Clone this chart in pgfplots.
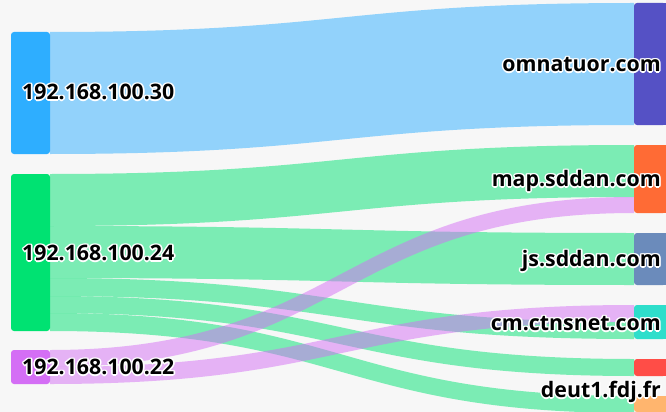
\documentclass[border=0pt]{standalone}
\usepackage{fontspec}
\setmainfont{Noto Sans}
\newfontfamily\lblfont{Open Sans}
\usepackage{pgfplots}
\pgfplotsset{compat=1.18}
\definecolor{bg}{HTML}{F7F7F7}
\definecolor{nA}{HTML}{2EAEFF}
\definecolor{nB}{HTML}{00E272}
\definecolor{nC}{HTML}{D46EF5}
\definecolor{tA}{HTML}{5551C5}
\definecolor{tB}{HTML}{FF6B35}
\definecolor{tC}{HTML}{6B8BBB}
\definecolor{tD}{HTML}{2EDECB}
\definecolor{tE}{HTML}{FF4D47}
\definecolor{tF}{HTML}{FFB56E}

% link: source top/bottom, target top/bottom, colour
\newcommand\flow[5]{%
  \fill[#5, fill opacity=0.5] (axis cs:50,#1) .. controls (axis cs:342,#1) and (axis cs:342,#3) .. (axis cs:634,#3)
    -- (axis cs:634,#4) .. controls (axis cs:342,#4) and (axis cs:342,#2) .. (axis cs:50,#2) -- cycle;}
\newcommand\srcnode[3]{\fill[#3, rounded corners=3bp] (axis cs:11,#1) rectangle (axis cs:50,#2);}
\newcommand\dstnode[3]{%
  \fill[#3, rounded corners=3bp] (axis cs:634,#1) rectangle (axis cs:666,#2);
  \fill[#3] (axis cs:650,#1) rectangle (axis cs:666,#2);}
\tikzset{lbl/.style={inner sep=0pt, text height=15.3bp, text depth=0pt,
  font=\lblfont\bfseries\fontsize{21.4}{25}\selectfont}}
% white halo: shifted white copies under the black text
\newcommand\lbl[4]{%
  \node[lbl, anchor=#3, text=white, xshift=1.6bp] at (axis cs:#1,#2) {#4};
  \node[lbl, anchor=#3, text=white, xshift=-1.6bp] at (axis cs:#1,#2) {#4};
  \node[lbl, anchor=#3, text=white, yshift=1.6bp] at (axis cs:#1,#2) {#4};
  \node[lbl, anchor=#3, text=white, yshift=-1.6bp] at (axis cs:#1,#2) {#4};
  \node[lbl, anchor=#3, text=white, xshift=1.15bp, yshift=1.15bp] at (axis cs:#1,#2) {#4};
  \node[lbl, anchor=#3, text=white, xshift=-1.15bp, yshift=1.15bp] at (axis cs:#1,#2) {#4};
  \node[lbl, anchor=#3, text=white, xshift=1.15bp, yshift=-1.15bp] at (axis cs:#1,#2) {#4};
  \node[lbl, anchor=#3, text=white, xshift=-1.15bp, yshift=-1.15bp] at (axis cs:#1,#2) {#4};
  \node[lbl, anchor=#3, text=black] at (axis cs:#1,#2) {#4};}

\begin{document}
\begin{tikzpicture}
\begin{axis}[
    width=666bp, height=412bp, scale only axis,
    xmin=0, xmax=666, ymin=0, ymax=412, y dir=reverse,
    hide axis, clip=true]
  \fill[bg] (axis cs:0,0) rectangle (axis cs:666,412);
  % links
  \flow{32}{154}{3}{125}{nA}
  \flow{174}{226}{145}{197}{nB}
  \flow{226}{278}{233}{285}{nB}
  \flow{278}{296}{322}{339}{nB}
  \flow{296}{313}{359}{376}{nB}
  \flow{313}{331}{396}{413}{nB}
  \flow{350}{367}{197}{213}{nC}
  \flow{367}{384}{305}{322}{nC}
  % nodes
  \srcnode{32}{154}{nA}
  \srcnode{174}{331}{nB}
  \srcnode{350}{384}{nC}
  \dstnode{3}{125}{tA}
  \dstnode{145}{213}{tB}
  \dstnode{233}{285}{tC}
  \dstnode{305}{339}{tD}
  \dstnode{359}{376}{tE}
  \dstnode{396}{412}{tF}
  % labels
  \lbl{22}{92}{west}{192.168.100.30}
  \lbl{22}{253}{west}{192.168.100.24}
  \lbl{22}{367}{west}{192.168.100.22}
  \lbl{661}{64}{east}{omnatuor.com}
  \lbl{661}{179}{east}{map.sddan.com}
  \lbl{661}{259}{east}{js.sddan.com}
  \lbl{661}{323}{east}{cm.ctnsnet.com}
  \lbl{661}{390}{east}{deut1.fdj.fr}
\end{axis}
\end{tikzpicture}
\end{document}
